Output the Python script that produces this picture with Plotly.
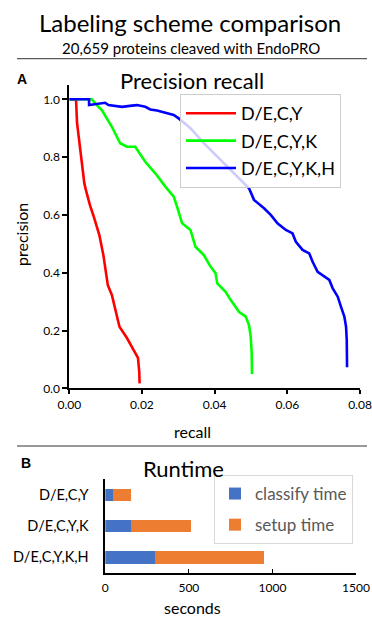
import plotly.graph_objects as go

W, H = 372, 618

# ---------------- data ----------------
schemes = ["D/E,C,Y", "D/E,C,Y,K", "D/E,C,Y,K,H"]

recall_decy = [0, 0.00185, 0.00213, 0.00268, 0.00343, 0.00387, 0.00414, 0.00461, 0.00525, 0.00572,
               0.00663, 0.00757, 0.00829, 0.00939, 0.01022, 0.0106, 0.01171, 0.01262, 0.01381, 0.01586,
               0.01751, 0.0189, 0.01925, 0.01934]
precision_decy = [1.0, 1.0, 0.918, 0.859, 0.801, 0.744, 0.709, 0.684, 0.650, 0.632,
                  0.598, 0.563, 0.529, 0.460, 0.391, 0.357, 0.323, 0.278, 0.213, 0.174,
                  0.139, 0.105, 0.057, 0.017]

recall_decyk = [0, 0.00619, 0.00801, 0.00895, 0.01171, 0.0140, 0.01586, 0.01815, 0.0209, 0.02367,
                0.02644, 0.02873, 0.02967, 0.03105, 0.03334, 0.03472, 0.03702, 0.03887, 0.04025, 0.04072,
                0.04301, 0.04439, 0.04669, 0.04854, 0.04945, 0.04992, 0.0502, 0.05028]
precision_decyk = [1.0, 1.0, 0.974, 0.963, 0.905, 0.848, 0.836, 0.836, 0.784, 0.744,
                   0.698, 0.663, 0.628, 0.571, 0.548, 0.490, 0.461, 0.421, 0.398, 0.363,
                   0.334, 0.306, 0.265, 0.248, 0.219, 0.179, 0.121, 0.049]

recall_decykh = [0, 0.00544, 0.00544, 0.00801, 0.00986, 0.01077, 0.01262, 0.01448, 0.01724, 0.01862,
                 0.02091, 0.02229, 0.02414, 0.02552, 0.02735, 0.02873, 0.03011, 0.03334, 0.03702, 0.04072,
                 0.04439, 0.04715, 0.04945, 0.05083, 0.05359, 0.05544, 0.05729, 0.05959, 0.06144, 0.06235,
                 0.0642, 0.06602, 0.06696, 0.06834, 0.07017, 0.07155, 0.07249, 0.07387, 0.07478, 0.07569,
                 0.07616, 0.07635, 0.07644]
precision_decykh = [1.0, 1.0, 0.980, 0.984, 0.988, 0.980, 0.977, 0.974, 0.978, 0.980,
                    0.974, 0.965, 0.961, 0.957, 0.951, 0.946, 0.934, 0.900, 0.848, 0.801,
                    0.755, 0.721, 0.692, 0.652, 0.623, 0.600, 0.571, 0.548, 0.536, 0.507,
                    0.479, 0.467, 0.438, 0.403, 0.386, 0.375, 0.346, 0.317, 0.282, 0.248,
                    0.213, 0.167, 0.073]

classify_time = [44, 152, 297]
setup_time = [110, 361, 654]

pr_x_ticks = [0.0, 0.02, 0.04, 0.06, 0.08]
pr_y_ticks = [0.0, 0.2, 0.4, 0.6, 0.8, 1.0]
rt_x_ticks = [0, 500, 1000, 1500]

# ---------------- helpers ----------------
def px(x):
    return x / W

def py(y):
    return 1 - y / H

FONT = "Lato"

fig = go.Figure()

curves = [
    (recall_decy, precision_decy, schemes[0], "#ff0000"),
    (recall_decyk, precision_decyk, schemes[1], "#00ff00"),
    (recall_decykh, precision_decykh, schemes[2], "#0000ff"),
]
for i, (rx, ry, name, col) in enumerate(curves):
    fig.add_trace(go.Scatter(
        x=rx, y=ry, mode="lines", name=name,
        line=dict(color=col, width=2.6),
        xaxis="x", yaxis="y", legend="legend", legendgroup=f"g{i}",
    ))

fig.add_trace(go.Bar(
    y=schemes, x=classify_time, orientation="h", name="classify time",
    marker=dict(color="#4472C4", line=dict(width=0)),
    xaxis="x2", yaxis="y2", legend="legend2", legendgroup="b1",
))
fig.add_trace(go.Bar(
    y=schemes, x=setup_time, orientation="h", name="setup time",
    marker=dict(color="#ED7D31", line=dict(width=0)),
    xaxis="x2", yaxis="y2", legend="legend2", legendgroup="b2",
))

fig.update_layout(
    width=W, height=H,
    autosize=False,
    margin=dict(l=0, r=0, t=0, b=0, pad=0),
    paper_bgcolor="white", plot_bgcolor="white",
    font=dict(family=FONT, color="black"),
    showlegend=True,
    barmode="stack",
    bargap=0.6,
    xaxis=dict(
        domain=[px(69.3), px(360)], range=[0, 0.08],
        tickvals=pr_x_ticks, tickformat=".2f",
        showgrid=False, zeroline=False, automargin=False,
        showline=True, linecolor="black", linewidth=2,
        ticks="outside", ticklen=4, tickwidth=1.5, tickcolor="black",
        tickfont=dict(size=12, family=FONT),
        anchor="y",
    ),
    yaxis=dict(
        domain=[py(388.3), py(85)], range=[0, 1.0495],
        tickvals=pr_y_ticks, tickformat=".1f",
        showgrid=False, zeroline=False, automargin=False,
        showline=True, linecolor="black", linewidth=2,
        ticks="outside", ticklen=5, tickwidth=1.5, tickcolor="black",
        tickfont=dict(size=12, family=FONT),
        anchor="x",
    ),
    xaxis2=dict(
        domain=[px(105.3), px(356)], range=[0, 1500],
        tickvals=rt_x_ticks,
        showgrid=False, zeroline=False, automargin=False,
        showline=True, linecolor="black", linewidth=1.5,
        ticks="inside", ticklen=4, tickwidth=1.2, tickcolor="black",
        tickfont=dict(size=12, family=FONT),
        ticklabelstandoff=3,
        anchor="y2",
    ),
    yaxis2=dict(
        domain=[py(573), py(479.3)],
        categoryorder="array", categoryarray=schemes,
        range=[2.5, -0.5],
        showgrid=False, zeroline=False, automargin=False,
        showline=True, linecolor="black", linewidth=1.5,
        ticks="outside", ticklen=12, tickcolor="rgba(0,0,0,0)",
        tickfont=dict(size=14.5, family=FONT),
        anchor="x2",
    ),
    legend=dict(
        x=px(180), y=py(94), xanchor="left", yanchor="top",
        bgcolor="rgba(255,255,255,0.8)", bordercolor="#cccccc", borderwidth=1,
        font=dict(size=18, family=FONT, color="black"),
        tracegroupgap=1, traceorder="grouped", itemwidth=50,
    ),
    legend2=dict(
        x=px(214), y=py(475), xanchor="left", yanchor="top",
        bgcolor="white", bordercolor="#d9d9d9", borderwidth=1,
        font=dict(size=17, family=FONT, color="#595959"),
        tracegroupgap=6, traceorder="grouped",
    ),
)

annotations = [
    dict(text="Labeling scheme comparison", x=px(190), y=py(22), size=24),
    dict(text="20,659 proteins cleaved with EndoPRO", x=px(191), y=py(47.5), size=15),
    dict(text="Precision recall", x=px(192), y=py(80), size=22),
    dict(text="recall", x=px(192), y=py(431), size=16),
    dict(text="Runtime", x=px(183), y=py(468), size=22),
    dict(text="seconds", x=px(192), y=py(607), size=16),
]
for a in annotations:
    fig.add_annotation(text=a["text"], x=a["x"], y=a["y"], xref="paper", yref="paper",
                       xanchor="center", yanchor="middle", showarrow=False,
                       font=dict(size=a["size"], family=FONT, color="black"))

fig.add_annotation(text="precision", x=px(21), y=py(235), xref="paper", yref="paper",
                   xanchor="center", yanchor="middle", showarrow=False, textangle=-90,
                   font=dict(size=16, family=FONT, color="black"))
fig.add_annotation(text="<b>A</b>", x=px(22), y=py(79), xref="paper", yref="paper",
                   xanchor="center", yanchor="middle", showarrow=False,
                   font=dict(size=14, family="Liberation Sans", color="black"))
fig.add_annotation(text="<b>B</b>", x=px(26), y=py(463), xref="paper", yref="paper",
                   xanchor="center", yanchor="middle", showarrow=False,
                   font=dict(size=14, family="Liberation Sans", color="black"))

for yline in (58.7, 446):
    fig.add_shape(type="line", xref="paper", yref="paper",
                  x0=px(17), x1=px(367), y0=py(yline), y1=py(yline),
                  line=dict(color="#333333", width=1))

fig.write_html(
    "out.html",
    config={"displayModeBar": False},
    post_script="document.body.style.margin='0';document.body.style.overflow='hidden';",
)
